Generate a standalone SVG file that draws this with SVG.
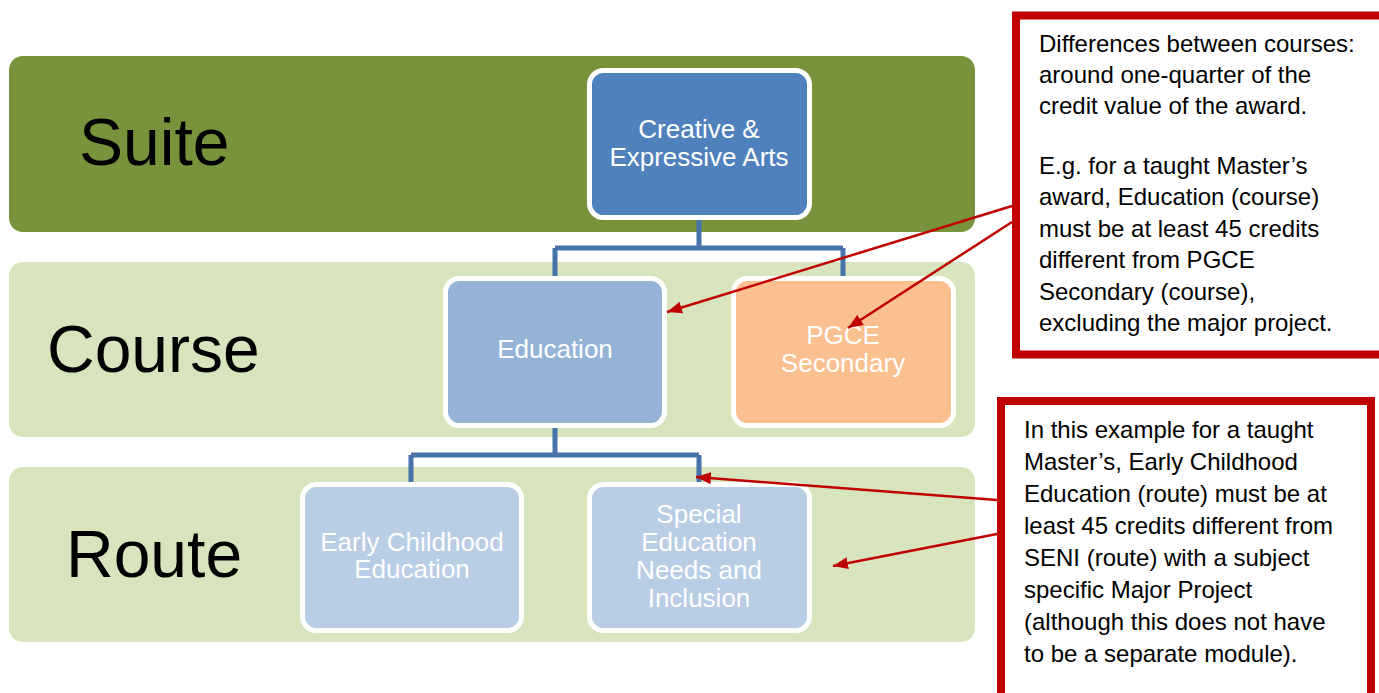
<svg xmlns="http://www.w3.org/2000/svg" width="1379" height="693" viewBox="0 0 1379 693">
<defs>
<style>
.band-dark{fill:#77933C;}
.band-light{fill:#D7E4BD;}
.lvl{font-family:"Liberation Sans",Arial,sans-serif;font-size:66px;fill:#000;}
.node rect{stroke:#fff;stroke-width:5;}
.ntxt{font-family:"Liberation Sans",Arial,sans-serif;font-size:26px;fill:#fff;text-anchor:middle;}
.conn{fill:none;stroke:#4673A9;stroke-width:5;}
.note{fill:#fff;stroke:#C00000;stroke-width:8;}
.ntext{font-family:"Liberation Sans",Arial,sans-serif;font-size:24px;fill:#000;}
.arrow{stroke:#C00000;stroke-width:2.5;fill:none;marker-end:url(#ah);}
</style>
<marker id="ah" viewBox="0 0 10 8" refX="10" refY="4" markerWidth="6" markerHeight="5" orient="auto" markerUnits="strokeWidth">
<path d="M0,0 L10,4 L0,8 z" fill="#C00000"/>
</marker>
</defs>
<rect width="1379" height="693" fill="#fff"/>
<g id="bands">
<rect class="band-dark" x="9" y="56" width="966" height="176" rx="14"/>
<rect class="band-light" x="9" y="262" width="966" height="175" rx="14"/>
<rect class="band-light" x="9" y="467" width="966" height="175" rx="14"/>
<text class="lvl" x="79" y="165">Suite</text>
<text class="lvl" x="47" y="372">Course</text>
<text class="lvl" x="66" y="577">Route</text>
</g>
<g id="connectors">
<path class="conn" d="M699,218 V248 M555,248 H843 M555,248 V276 M843,248 V276"/>
<path class="conn" d="M555,428 V455 M411,455 H699 M411,455 V482 M699,455 V482"/>
</g>
<g id="node-creative" class="node">
<rect x="589.5" y="70.5" width="220" height="147" rx="14" fill="#4F81BD"/>
<text class="ntxt" x="699" y="138">Creative &amp;</text>
<text class="ntxt" x="699" y="166">Expressive Arts</text>
</g>
<g id="node-education" class="node">
<rect x="445.5" y="278.5" width="219" height="147" rx="14" fill="#95B3D7"/>
<text class="ntxt" x="555" y="358">Education</text>
</g>
<g id="node-pgce" class="node">
<rect x="733.5" y="278.5" width="220" height="147" rx="14" fill="#FAC090"/>
<text class="ntxt" x="843" y="344">PGCE</text>
<text class="ntxt" x="843" y="372">Secondary</text>
</g>
<g id="node-early" class="node">
<rect x="302.5" y="484.5" width="219" height="146" rx="14" fill="#B9CDE5"/>
<text class="ntxt" x="412" y="551">Early Childhood</text>
<text class="ntxt" x="412" y="578">Education</text>
</g>
<g id="node-seni" class="node">
<rect x="589.5" y="484.5" width="220" height="146" rx="14" fill="#B9CDE5"/>
<text class="ntxt" x="699" y="523">Special</text>
<text class="ntxt" x="699" y="551">Education</text>
<text class="ntxt" x="699" y="579">Needs and</text>
<text class="ntxt" x="699" y="607">Inclusion</text>
</g>
<g id="note-courses">
<rect class="note" x="1016" y="15.5" width="380" height="339"/>
<text class="ntext" x="1039" y="52">Differences between courses:</text>
<text class="ntext" x="1039" y="83">around one-quarter of the</text>
<text class="ntext" x="1039" y="114">credit value of the award.</text>
<text class="ntext" x="1039" y="174">E.g. for a taught Master’s</text>
<text class="ntext" x="1039" y="205">award, Education (course)</text>
<text class="ntext" x="1039" y="237">must be at least 45 credits</text>
<text class="ntext" x="1039" y="268">different from PGCE</text>
<text class="ntext" x="1039" y="300">Secondary (course),</text>
<text class="ntext" x="1039" y="331">excluding the major project.</text>
</g>
<g id="note-routes">
<rect class="note" x="1001" y="401" width="370" height="320"/>
<text class="ntext" x="1024" y="438">In this example for a taught</text>
<text class="ntext" x="1024" y="470">Master’s, Early Childhood</text>
<text class="ntext" x="1024" y="502">Education (route) must be at</text>
<text class="ntext" x="1024" y="534">least 45 credits different from</text>
<text class="ntext" x="1024" y="566">SENI (route) with a subject</text>
<text class="ntext" x="1024" y="598">specific Major Project</text>
<text class="ntext" x="1024" y="630">(although this does not have</text>
<text class="ntext" x="1024" y="662">to be a separate module).</text>
</g>
<g id="arrows">
<line class="arrow" x1="1012" y1="206" x2="667" y2="312"/>
<line class="arrow" x1="1012" y1="222" x2="848" y2="328"/>
<line class="arrow" x1="997" y1="500" x2="696" y2="477"/>
<line class="arrow" x1="997" y1="534" x2="833" y2="566"/>
</g>
</svg>
